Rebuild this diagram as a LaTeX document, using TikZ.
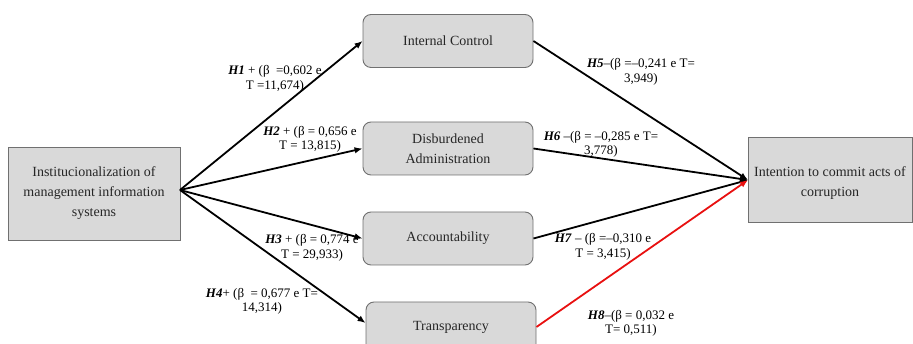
\documentclass[tikz,border=0pt]{standalone}
\usepackage{fontspec}
\setmainfont{Liberation Serif}
\usetikzlibrary{arrows.meta}
\definecolor{boxfill}{HTML}{D9D9D9}
\definecolor{boxline}{HTML}{707070}
\definecolor{txt}{HTML}{262626}
\definecolor{redline}{HTML}{E81010}
\begin{document}
\begin{tikzpicture}[x=1pt,y=-1pt,
  sqbox/.style={draw=boxline,fill=boxfill,line width=0.9pt,text=txt,align=center,
    font=\fontsize{14}{20}\selectfont,inner sep=0pt},
  rbox/.style={draw=boxline,fill=boxfill,line width=0.9pt,rounded corners=8pt,text=txt,align=center,
    font=\fontsize{14}{20}\selectfont,inner sep=0pt,minimum width=170pt},
  boxtxt/.style={text=txt,align=center,font=\fontsize{14}{20}\selectfont,inner sep=0pt},
  conn/.style={line width=1.8pt,-{Latex[length=8pt,width=6.5pt]}},
  lab/.style={font=\fontsize{13}{14.5}\selectfont,align=center,inner sep=0pt,text=black}]
\useasboundingbox (0,0) rectangle (913,344);
% boxes
\node[sqbox,minimum width=172pt,minimum height=93pt] (src) at (94,193.5) {Institucionalization of\\management information\\systems};
\node[sqbox,minimum width=164pt,minimum height=85pt] (dst) at (830,179.5) {};
\node[boxtxt] (dsttxt) at (830,183.5) {Intention to commit acts of\\corruption};
\node[rbox,minimum height=53pt] (ic) at (448,41) {Internal Control};
\node[rbox,minimum height=53pt] (da) at (448,148.5) {Disburdened\\Administration};
\node[rbox,minimum height=53pt] (ac) at (448,238.5) {Accountability};
\node[rbox,minimum height=50pt] (tr) at (451,327) {Transparency};
% connectors
\coordinate (s) at (180,190);
\coordinate (t) at (748,180);
\draw[conn] (s) -- (ic.west);
\draw[conn] (s) -- (da.west);
\draw[conn] (s) -- (ac.west);
\draw[conn] (s) -- (tr.west |- 0,323) coordinate (trw);
\draw[conn] (ic.east) -- (t);
\draw[conn] (da.east) -- (t);
\draw[conn] (ac.east) -- (t);
\draw[conn,draw=redline,-{Latex[length=8pt,width=6.5pt,fill=redline]}] (tr.east) -- (t);
% labels
\node[lab] (l1) at (275,79) {\textbf{\textit{H1}} + (β \ =0,602 e\\T =11,674)};
\node[lab] (l2) at (310,139.5) {\textbf{\textit{H2}} + (β = 0,656 e\\T = 13,815)};
\node[lab] (l3) at (312,248) {\textbf{\textit{H3}} + (β = 0,774 e\\T = 29,933)};
\node[lab] (l4) at (262,301.5) {\textbf{\textit{H4}}+ (β \ = 0,677 e T=\\14,314)};
\node[lab] (l5) at (641,72) {\textbf{\textit{H5}}–(β =–0,241 e T=\\3,949)};
\node[lab] (l6) at (601,144.5) {\textbf{\textit{H6}} –(β = –0,285 e T=\\3,778)};
\node[lab] (l7) at (603,247) {\textbf{\textit{H7}} – (β =–0,310 e\\T = 3,415)};
\node[lab] (l8) at (631,323.5) {\textbf{\textit{H8}}–(β = 0,032 e\\T= 0,511)};
\end{tikzpicture}
\end{document}
